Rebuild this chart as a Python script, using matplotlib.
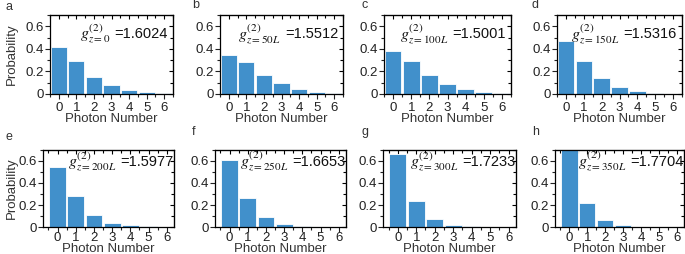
import numpy as np
import matplotlib
matplotlib.use('Agg')
import matplotlib.pyplot as plt
from matplotlib.ticker import MultipleLocator, FuncFormatter

plt.rcParams['font.family'] = ['Liberation Sans', 'DejaVu Sans']
plt.rcParams['mathtext.fontset'] = 'stix'

photon = [0, 1, 2, 3, 4, 5, 6]
letters = ['a', 'b', 'c', 'd', 'e', 'f', 'g', 'h']
subs = ['z=0', 'z=50L', 'z=100L', 'z=150L', 'z=200L', 'z=250L', 'z=300L', 'z=350L']
g2 = ['1.6024', '1.5512', '1.5001', '1.5316', '1.5977', '1.6653', '1.7233', '1.7704']

p_a = [0.42, 0.29, 0.155, 0.078, 0.036, 0.017, 0.005]
p_b = [0.35, 0.28, 0.17, 0.095, 0.047, 0.022, 0.010]
p_c = [0.38, 0.29, 0.165, 0.085, 0.040, 0.018, 0.008]
p_d = [0.47, 0.29, 0.14, 0.060, 0.025, 0.010, 0.004]
p_e = [0.546, 0.28, 0.106, 0.038, 0.014, 0.005, 0.002]
p_f = [0.61, 0.26, 0.09, 0.030, 0.008, 0.003, 0.001]
p_g = [0.66, 0.24, 0.075, 0.020, 0.005, 0.001, 0.0]
p_h = [0.72, 0.22, 0.06, 0.015, 0.003, 0.001, 0.0]
probs = [p_a, p_b, p_c, p_d, p_e, p_f, p_g, p_h]

W, H = 685, 254
fig = plt.figure(figsize=(W / 100, H / 100), dpi=100)

# pixel boxes (left, top, width, height)
boxes = [(50, 15, 123, 79), (220, 15, 123, 79), (384, 15, 127, 79), (557, 15, 125, 79),
         (43, 150, 131, 77), (215, 150, 131, 77), (383, 150, 133, 77), (555, 150, 129, 77)]
letter_pos = [(5, 7), (192, 5), (362, 5), (532, 5), (5, 137), (192, 132), (362, 132), (532, 132)]

color = '#4190cb'
fs = 9.5

for i in range(8):
    l, t, w, h = boxes[i]
    ax = fig.add_axes([l / W, (H - t - h) / H, w / W, h / H])
    ax.bar(photon, probs[i], width=0.92, color=color, edgecolor='white', linewidth=0.6)
    ax.set_ylim(0, 0.7)
    if i < 4:
        ax.set_xlim(-0.5, 6.5)
    else:
        ax.set_xlim(-0.8, 6.4)
    ax.set_xticks(photon)
    ax.xaxis.set_minor_locator(MultipleLocator(0.5))
    ax.yaxis.set_major_locator(MultipleLocator(0.2))
    ax.yaxis.set_minor_locator(MultipleLocator(0.1))
    ax.yaxis.set_major_formatter(FuncFormatter(lambda v, p: '0' if abs(v) < 1e-9 else '%.1f' % v))
    ax.tick_params(which='both', direction='out', labelsize=fs, pad=1.2, width=0.8, colors='#222222')
    ax.tick_params(axis='x', pad=2.0 if i < 4 else 0)
    ax.tick_params(which='major', length=3.5)
    ax.tick_params(which='minor', length=2)
    for s in ax.spines.values():
        s.set_linewidth(0.9)
    # inward ticks on top and right
    top = ax.secondary_xaxis('top')
    top.set_xticks(photon)
    top.xaxis.set_minor_locator(MultipleLocator(0.5))
    top.tick_params(which='both', direction='in', labeltop=False, width=0.8)
    top.tick_params(which='major', length=3)
    top.tick_params(which='minor', length=2)
    right = ax.secondary_yaxis('right')
    right.yaxis.set_major_locator(MultipleLocator(0.2))
    right.yaxis.set_minor_locator(MultipleLocator(0.1))
    right.tick_params(which='both', direction='in', labelright=False, width=0.8)
    right.tick_params(which='major', length=3)
    right.tick_params(which='minor', length=2)

    xl = ax.set_xlabel('Photon Number', fontsize=9.5, color='#333333')
    xl.set_va('center')
    ax.xaxis.set_label_coords(0.5, -0.32 if i < 4 else -0.29)
    if i in (0, 4):
        yl = ax.set_ylabel('Probability', fontsize=9.5, color='#333333')
        yl.set_va('center')
        ax.yaxis.set_label_coords((12 - l) / w, 0.5)
    ty = 0.76 if i < 4 else 0.85
    tx = 0.96 if i < 4 else 0.995
    num = ax.text(tx, ty, '=' + g2[i], transform=ax.transAxes,
                  ha='right', va='center', fontsize=10.5, color='#111111')
    ax.annotate(r'$g^{(2)}_{%s}$' % subs[i], xy=(0, 0.5), xycoords=num,
                xytext=(-3, 0), textcoords='offset points',
                ha='right', va='center', fontsize=11.5, color='#111111')
    fig.text(letter_pos[i][0] / W, 1 - letter_pos[i][1] / H, letters[i], fontsize=9,
             ha='left', va='center', color='#333333')

fig.savefig('out.png', dpi=100)
